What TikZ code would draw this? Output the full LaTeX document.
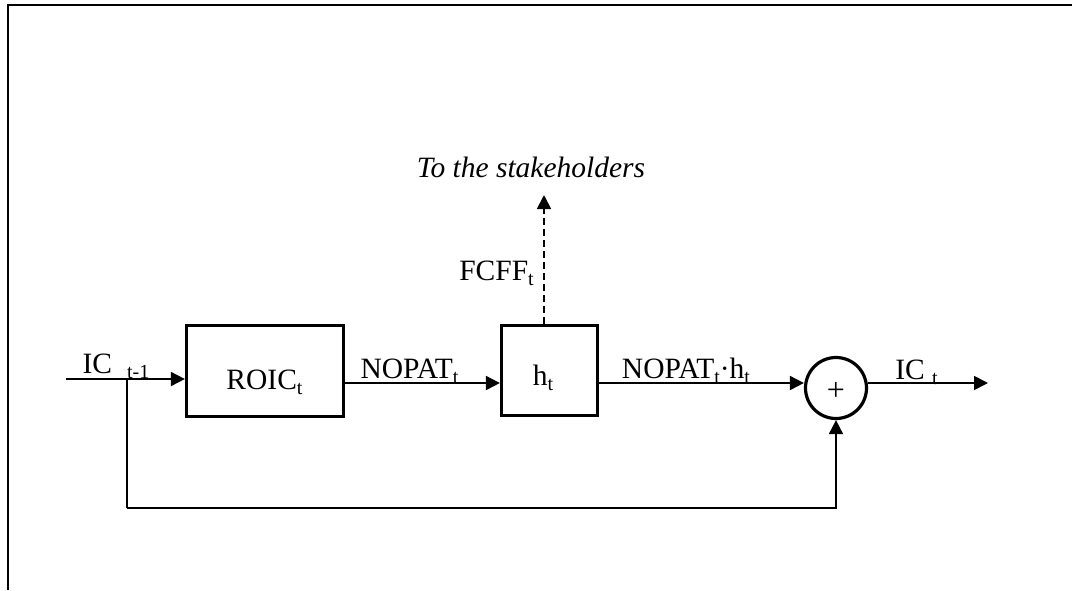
\documentclass[tikz,border=0pt]{standalone}
\usepackage{fontspec}
\setmainfont{Liberation Serif}
\usetikzlibrary{arrows.meta}
\newcommand\sbs[1]{\raisebox{-5pt}{\fontsize{20}{20}\selectfont #1}}
\begin{document}
\begin{tikzpicture}[x=1pt,y=-1pt,
  font=\fontsize{29.5}{33}\selectfont,
  blk/.style={draw,line width=3.2pt,inner sep=0pt},
  conn/.style={line width=1.8pt},
  arr/.style={conn,-{Triangle[length=14pt,width=14pt]}},
  lbl/.style={anchor=base,inner sep=0pt}]
\useasboundingbox (0,0) rectangle (1072,590);
% frame
\draw[line width=2.6pt] (8,590) -- (8,5) -- (1072,5);
% blocks
\node[blk,minimum width=157pt,minimum height=91pt] (roic) at (265,371) {};
\node[blk,minimum width=96pt,minimum height=90pt] (h) at (549.5,370.5) {};
\node[blk,circle,minimum size=61pt] (sum) at (836,388) {};
% texts
\node[lbl] (troic) at (264.5,389) {ROIC\sbs{t}};
\node[lbl] (th) at (543,385) {h\sbs{t}};
\node[font=\fontsize{32}{32}\selectfont,inner sep=0pt] (plus) at (836,391) {+};
\node[lbl] (tin) at (116,373) {IC\hspace{15pt}\sbs{t-1}};
\node[lbl] (tnopat) at (409.5,378) {NOPAT\sbs{t}};
\node[lbl] (tfcff) at (496.5,280) {FCFF\sbs{t}};
\node[lbl,font=\fontsize{29.5}{33}\selectfont\itshape] (tstake) at (531,177) {To the stakeholders};
\node[lbl] (tnh) at (686,378) {NOPAT\sbs{t}·h\sbs{t}};
\node[lbl] (tout) at (916.5,379) {IC \sbs{t}};
% coordinates
\coordinate (inA) at (66,379);
\coordinate (fb) at (127,379);
\coordinate (fbL) at (127,508);
\coordinate (yl) at (0,383);
\coordinate (out) at (988,383);
\coordinate (st) at (544,195);
% connectors
\draw[arr] (inA) -- (inA -| roic.west);
\draw[conn] (fb) -- (fbL);
\draw[arr] (fbL) -| (sum.south);
\draw[arr] (roic.east |- yl) -- (h.west |- yl);
\draw[arr] (h.east |- yl) -- (sum.west |- yl);
\draw[arr] (sum.east |- yl) -- (out);
\draw[arr,dash pattern=on 7pt off 4pt] (h.north -| st) -- (st);
\end{tikzpicture}
\end{document}
